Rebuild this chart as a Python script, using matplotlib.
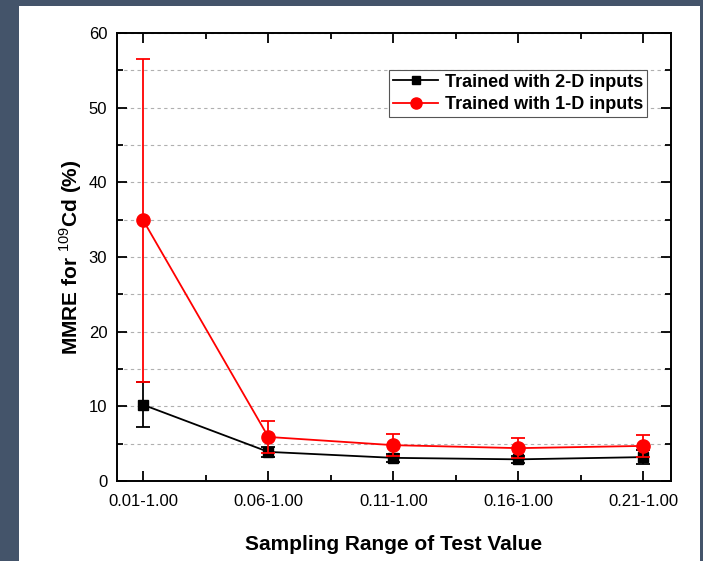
import numpy as np
import matplotlib
matplotlib.use('Agg')
import matplotlib.pyplot as plt
from matplotlib.patches import Rectangle
from matplotlib.lines import Line2D

plt.rcParams['font.family'] = ['Liberation Sans', 'DejaVu Sans']
plt.rcParams['mathtext.fontset'] = 'custom'
plt.rcParams['mathtext.rm'] = 'Liberation Sans'
plt.rcParams['mathtext.bf'] = 'Liberation Sans:bold'

# data
ranges = ['0.01-1.00', '0.06-1.00', '0.11-1.00', '0.16-1.00', '0.21-1.00']
mmre_2d = [10.2, 3.9, 3.1, 2.9, 3.2]
err_2d = [3.0, 0.7, 0.5, 0.5, 0.9]
mmre_1d = [34.9, 5.9, 4.8, 4.4, 4.7]
err_1d = [21.6, 2.1, 1.5, 1.3, 1.5]

fig = plt.figure(figsize=(7.03, 5.61), dpi=100)
fig.patch.set_facecolor('#44546a')
fig.patches.append(Rectangle((19/703, 0), 681/703, 555/561, transform=fig.transFigure,
                             facecolor='white', edgecolor='none', zorder=-10))

ax = fig.add_axes([117/703, 1 - 481/561, 554/703, 448/561])
x = np.arange(len(ranges))

ax.errorbar(x, mmre_2d, yerr=err_2d, color='black', marker='s', markersize=7.5,
            lw=1.3, capsize=5, capthick=1.3, elinewidth=1.3, zorder=3)
ax.errorbar(x, mmre_1d, yerr=err_1d, color='red', marker='o', markersize=9.5,
            lw=1.3, capsize=5, capthick=1.3, elinewidth=1.3, zorder=4)

ax.set_xlim(-0.21, 4.22)
ax.set_ylim(0, 60)
ax.set_xticks(x)
ax.set_xticklabels(ranges)
ax.set_xticks(x[:-1] + 0.5, minor=True)
ax.set_yticks(np.arange(0, 61, 10))
ax.set_yticks(np.arange(5, 60, 10), minor=True)
ax.yaxis.grid(True, which='both', linestyle=(0, (3, 3)), color='#b0b0b0', lw=0.8)
ax.set_axisbelow(True)

ax.tick_params(which='both', direction='in', top=True, right=True, labelsize=12,
               width=1.3)
ax.tick_params(axis='x', pad=9)
ax.tick_params(axis='y', pad=7)
ax.tick_params(which='major', length=7)
ax.tick_params(which='minor', length=4)
for s in ax.spines.values():
    s.set_linewidth(1.4)

ax.set_xlabel('Sampling Range of Test Value', fontsize=15, fontweight='bold', labelpad=19)
ax.set_ylabel(r'MMRE for $^{109}$Cd (%)', fontsize=15, fontweight='bold', labelpad=3)

handles = [Line2D([], [], color='black', marker='s', markersize=6, lw=1.3),
           Line2D([], [], color='red', marker='o', markersize=8, lw=1.3)]
leg = ax.legend(handles, ['Trained with 2-D inputs', 'Trained with 1-D inputs'],
                loc='upper right', bbox_to_anchor=(0.957, 0.917), borderaxespad=0,
                fancybox=False, framealpha=1, edgecolor='#555555',
                prop={'weight': 'bold', 'size': 13},
                handlelength=2.5, borderpad=0.2, labelspacing=0.3, handletextpad=0.4)
leg.get_frame().set_linewidth(0.8)

fig.savefig('out.png', dpi=100, facecolor=fig.get_facecolor())
